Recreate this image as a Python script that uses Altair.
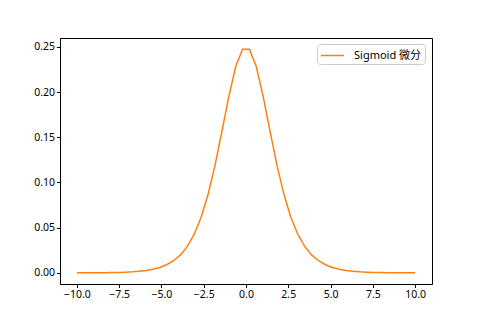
import altair as alt
import pandas as pd

x_vals = [-10.0, -9.592, -9.184, -8.776, -8.367, -7.959, -7.551, -7.143, -6.735, -6.327,
          -5.918, -5.510, -5.102, -4.694, -4.286, -3.878, -3.469, -3.061, -2.653, -2.245,
          -1.837, -1.429, -1.020, -0.612, -0.204,
          0.204, 0.612, 1.020, 1.429, 1.837, 2.245, 2.653, 3.061, 3.469, 3.878,
          4.286, 4.694, 5.102, 5.510, 5.918, 6.327, 6.735, 7.143, 7.551, 7.959,
          8.367, 8.776, 9.184, 9.592, 10.0]
y_vals = [0.0000454, 0.0000683, 0.0001027, 0.0001544, 0.0002322, 0.0003492, 0.0005250, 0.0007892, 0.0011861, 0.0017819,
          0.0026751, 0.004013, 0.006011, 0.008986, 0.013393, 0.01987, 0.02928, 0.04273, 0.06147, 0.08661,
          0.11855, 0.15595, 0.19475, 0.22796, 0.24742,
          0.24742, 0.22796, 0.19475, 0.15595, 0.11855, 0.08661, 0.06147, 0.04273, 0.02928, 0.01987,
          0.013393, 0.008986, 0.006011, 0.004013, 0.0026751, 0.0017819, 0.0011861, 0.0007892, 0.0005250, 0.0003492,
          0.0002322, 0.0001544, 0.0001027, 0.0000683, 0.0000454]
series_name = "Sigmoid 微分"
x_ticks = [-10.0, -7.5, -5.0, -2.5, 0.0, 2.5, 5.0, 7.5, 10.0]
y_ticks = [0.0, 0.05, 0.10, 0.15, 0.20, 0.25]

df = pd.DataFrame({"x": x_vals, "y": y_vals, "s": [series_name] * len(x_vals)})

FONT = "Noto Sans, Noto Sans CJK SC"

chart = alt.Chart(df).mark_line(strokeWidth=1.5).encode(
    x=alt.X("x:Q", scale=alt.Scale(domain=[-11, 11], nice=False, zero=False),
            axis=alt.Axis(values=x_ticks, format=".1f", title=None)),
    y=alt.Y("y:Q", scale=alt.Scale(domain=[-0.01232, 0.2598], nice=False, zero=False),
            axis=alt.Axis(values=y_ticks, format=".2f", title=None)),
    color=alt.Color("s:N", scale=alt.Scale(domain=[series_name], range=["#ff7f0e"]),
                    legend=alt.Legend(title=None, orient="none", legendX=257, legendY=6,
                                      symbolType="M-1,0H2.0667", symbolSize=225, symbolStrokeWidth=1.5,
                                      labelFont=FONT, labelFontSize=11, labelColor="black",
                                      fillColor="white", strokeColor="#cccccc", cornerRadius=3,
                                      padding=3, labelOffset=17)),
).properties(
    width=372, height=246,
    autosize=alt.AutoSizeParams(type="none"),
    padding={"left": 60, "top": 38, "right": 48, "bottom": 36},
).configure_view(
    stroke="black", strokeWidth=1
).configure_axis(
    grid=False, domainColor="black", tickColor="black", labelColor="black",
    labelFont=FONT, labelFontSize=10.5, tickSize=3.5, labelPadding=2, domainWidth=1, tickWidth=1
)

chart.save("out.html", embed_options={"renderer": "svg", "actions": False})
